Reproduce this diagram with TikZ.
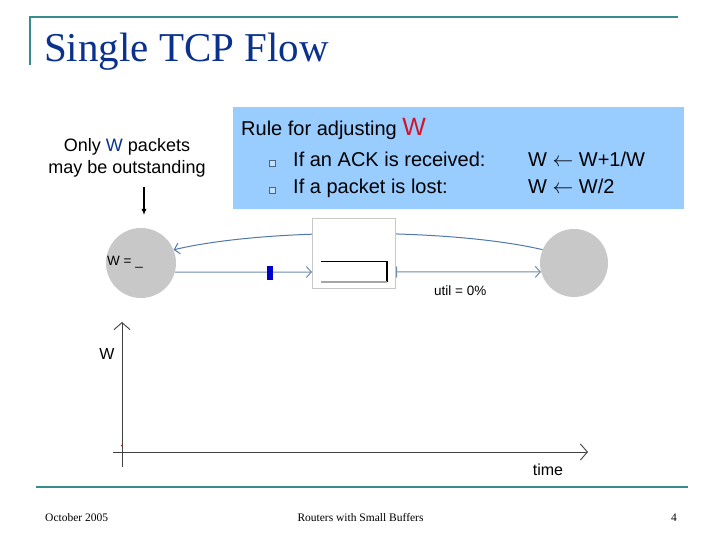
\documentclass[tikz,border=0pt]{standalone}
\usepackage{fontspec}
\setmainfont{Liberation Serif}
\newfontfamily\arial{Liberation Sans}
\usetikzlibrary{arrows.meta}
\definecolor{slideteal}{RGB}{56,140,140}
\definecolor{titleblue}{RGB}{10,50,140}
\definecolor{rulebox}{RGB}{153,204,255}
\definecolor{rulered}{RGB}{210,20,40}
\definecolor{circgray}{RGB}{200,200,200}
\definecolor{boxgray}{RGB}{200,200,200}
\definecolor{linkblue}{RGB}{110,140,170}
\definecolor{fbblue}{RGB}{80,120,170}
\definecolor{bulletc}{RGB}{80,100,120}
\definecolor{pktblue}{RGB}{0,0,200}
\tikzset{
  slideline/.style={draw=slideteal, line width=2.2pt},
  txt/.style={inner sep=0pt, font=\arial\fontsize{20}{24}\selectfont},
  small/.style={inner sep=0pt, font=\arial\fontsize{13.5}{15}\selectfont},
  foot/.style={inner sep=0pt, font=\fontsize{11.5}{13}\selectfont},
  hostnode/.style={circle, fill=circgray, inner sep=0pt},
  link/.style={draw=linkblue, line width=1pt},
  axis/.style={draw=black!75, line width=0.9pt},
  bulletbox/.style={draw=bulletc, fill=rulebox!60, minimum size=6pt, inner sep=0pt, line width=0.8pt}
}
\begin{document}
\begin{tikzpicture}[x=1pt,y=-1pt]
\useasboundingbox (0,0) rectangle (720,540);
% slide frame
\draw[slideline] (30,65) -- (30,17) -- (678,17);
\draw[slideline] (36,487) -- (688,487);
\node[anchor=base west, inner sep=0pt, text=titleblue, font=\fontsize{41}{48}\selectfont] (title) at (44,62) {Single TCP Flow};

% rule box
\node[fill=rulebox, minimum width=451, minimum height=102, inner sep=0pt] (rule) at (458,158.5) {};
\node[txt, anchor=base west] (ruletxt) at (241,135.5) {Rule for adjusting \textcolor{rulered}{\fontsize{25}{28}\selectfont W}};
\node[bulletbox] (b1) at (272.5,163) {};
\node[bulletbox] (b2) at (272.5,190) {};
\node[txt, anchor=base west] (r1) at (293,167) {If an ACK is received:};
\node[txt, anchor=base west] (r2) at (293,194) {If a packet is lost:};
\node[txt, anchor=base west] (f1) at (528,167) {W $\leftarrow$ W+1/W};
\node[txt, anchor=base west] (f2) at (528,194) {W $\leftarrow$ W/2};

% left annotation
\node[inner sep=0pt, align=center, font=\arial\fontsize{18}{22}\selectfont] (only) at (127,158) {Only \textcolor{titleblue}{W} packets\\may be outstanding};
\coordinate (a1) at (144,187);
\coordinate (a2) at (144,215);
\draw[line width=1.1pt, -{Latex[length=6pt,width=5pt]}] (a1) -- (a2);

% hosts and router
\node[hostnode, minimum size=70] (snd) at (141,263) {};
\node[hostnode, minimum size=68] (rcv) at (574,263) {};
\draw[draw=fbblue, line width=1pt, -{Straight Barb[length=5pt,width=11pt]}]
  (rcv.157) .. controls (450,228) and (265,228) .. (snd.22);
\node[draw=boxgray, fill=white, line width=1pt, minimum width=83, minimum height=69, inner sep=0pt] (rtr) at (354,253.5) {};
\draw[draw=black, line width=1.2pt] (321,261.5) -- (387,261.5) -- (387,282);
\draw[draw=gray!70, line width=1.2pt] (321,282) -- (387,282);
\coordinate (fw) at (150,272);
\draw[link, -{Straight Barb[length=5pt,width=11pt]}] (snd.-15) -- (rtr.west |- fw);
\draw[link, {Bar[width=11pt]}-{Straight Barb[length=5pt,width=11pt]}] (rtr.east |- fw) -- (rcv.195);
\node[fill=pktblue, minimum width=6.5, minimum height=14, inner sep=0pt] (pkt) at (269.8,272.5) {};
\node[small, anchor=west] (wlab) at (107,262) {W = \_};
\node[small, anchor=west] (util) at (434,291) {util = 0\%};

% graph
\coordinate (yb) at (122,467);
\coordinate (yt) at (122,322);
\coordinate (xl) at (113,452);
\coordinate (xr) at (588,452);
\draw[axis, -{Straight Barb[length=7pt,width=16pt]}] (yb) -- (yt);
\draw[axis, -{Straight Barb[length=7pt,width=16pt]}] (xl) -- (xr);
\node[inner sep=0pt, font=\arial\fontsize{16}{18}\selectfont] (wax) at (107,354) {W};
\node[inner sep=0pt, font=\arial\fontsize{16}{18}\selectfont] (time) at (548,470) {time};
\fill[red] (122,445.5) circle (1.1);

% footer
\node[foot, anchor=base west] (date) at (45,521) {October 2005};
\node[foot, anchor=base] (ftitle) at (360.5,521) {Routers with Small Buffers};
\node[foot, anchor=base] (page) at (674,521) {4};
\end{tikzpicture}
\end{document}
